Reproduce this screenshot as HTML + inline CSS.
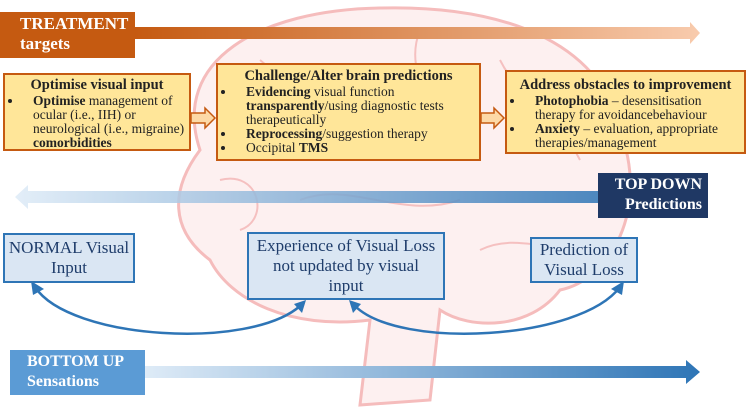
<!DOCTYPE html>
<html><head><meta charset="utf-8"><style>
body{margin:0;width:750px;height:417px;position:relative;overflow:hidden;background:#fff;font-family:"Liberation Serif",serif;}
.a{position:absolute;box-sizing:border-box}
.y{background:#ffe699;border:2px solid #c55a11;font-size:13.5px;line-height:14px;color:#222;padding:3px 4px}
.y h4{margin:0 0 1px;text-align:center;font-size:14.5px;line-height:16px}
.y ul{margin:0;padding-left:14px}
.y li{padding-left:10px}
.b{background:#dae6f3;border:2px solid #2e75b6;color:#1f3d6b;font-size:17px;line-height:20px;text-align:center;display:flex;align-items:center;justify-content:center}
</style></head><body>
<svg class="a" style="left:0;top:0" width="750" height="417">
<defs>
<linearGradient id="g1"><stop offset="0" stop-color="#c55a11"/><stop offset="1" stop-color="#f8cbad"/></linearGradient>
<linearGradient id="g3"><stop offset="0" stop-color="#deebf7"/><stop offset="1" stop-color="#2e75b6"/></linearGradient>
</defs>
<g fill="#fdf0f0" stroke="#f5bcbc" stroke-width="3">
<path d="M200,150 C170,60 260,10 380,8 C500,5 600,40 620,130 C650,210 610,280 560,290 C530,330 470,330 440,310 L430,400 L360,405 L370,320 C290,330 230,300 210,260 C170,230 170,190 200,150Z"/>
</g>
<g fill="none" stroke="#f5c0c0" stroke-width="2">
<path d="M260,60 C300,90 280,130 320,150 M420,30 C400,80 450,110 430,160 M500,60 C520,100 560,120 580,160 M300,200 C350,180 400,220 460,200 M250,250 C300,240 340,270 400,260 M480,250 C520,230 560,260 590,240 M220,180 C260,170 270,220 240,230"/>
</g>
<path d="M135,27 L690,27 L690,22 L700,33 L690,44 L690,39 L135,39Z" fill="url(#g1)"/>
<path d="M598,191 L28,191 L28,185 L15,197 L28,209 L28,203 L598,203Z" fill="url(#g3)" opacity=".85"/>
<path d="M145,366 L686,366 L686,360 L700,372 L686,384 L686,378 L145,378Z" fill="url(#g3)"/>
<g fill="#fdd9a6" stroke="#c55a11" stroke-width="1.5">
<path d="M191,113 L205,113 L205,108 L215,118 L205,128 L205,123 L191,123Z"/>
<path d="M481,113 L494,113 L494,108 L504,118 L494,128 L494,123 L481,123Z"/>
</g>
<g fill="none" stroke="#2e75b6" stroke-width="2.5">
<path d="M300,306 C250,350 70,340 35,287"/>
<path d="M355,306 C400,350 580,340 620,287"/>
</g>
<g fill="#2e75b6">
<path d="M31,281 L44,289 L33,295Z"/><path d="M306,300 L302,313 L294,304Z"/>
<path d="M349,300 L353,313 L361,304Z"/><path d="M624,281 L611,289 L622,295Z"/>
</g>
</svg>
<div class="a" style="left:0;top:12px;width:135px;height:46px;background:#c55a11;color:#fff;font-weight:bold;font-size:17px;line-height:20px;padding:2px 0 0 20px">TREATMENT<br>targets</div>
<div class="a y" style="left:3px;top:73px;width:188px;height:78px;padding-top:2px"><h4>Optimise visual input</h4><ul><li><b>Optimise</b> management of ocular (i.e., IIH) or neurological (i.e., migraine) <b>comorbidities</b></li></ul></div>
<div class="a y" style="left:216px;top:63px;width:265px;height:98px"><h4>Challenge/Alter brain predictions</h4><ul><li><b>Evidencing</b> visual function <b>transparently</b>/using diagnostic tests therapeutically</li><li><b>Reprocessing</b>/suggestion therapy</li><li>Occipital <b>TMS</b></li></ul></div>
<div class="a y" style="left:505px;top:70px;width:241px;height:84px;padding-top:5px"><h4>Address obstacles to improvement</h4><ul><li><b>Photophobia</b> – desensitisation therapy for avoidancebehaviour</li><li><b>Anxiety</b> – evaluation, appropriate therapies/management</li></ul></div>
<div class="a" style="left:598px;top:173px;width:110px;height:45px;background:#1f3864;color:#fff;font-weight:bold;font-size:16px;line-height:20px;text-align:right;padding:2px 6px 0 0">TOP DOWN<br>Predictions</div>
<div class="a b" style="left:3px;top:233px;width:132px;height:50px">NORMAL Visual<br>Input</div>
<div class="a b" style="left:247px;top:232px;width:198px;height:68px;padding:0 6px">Experience of Visual Loss not updated by visual input</div>
<div class="a b" style="left:530px;top:237px;width:108px;height:46px">Prediction of<br>Visual Loss</div>
<div class="a" style="left:10px;top:350px;width:135px;height:45px;background:#5b9bd5;color:#fff;font-weight:bold;font-size:16px;line-height:20px;padding:2px 0 0 17px">BOTTOM UP<br>Sensations</div>
</body></html>
